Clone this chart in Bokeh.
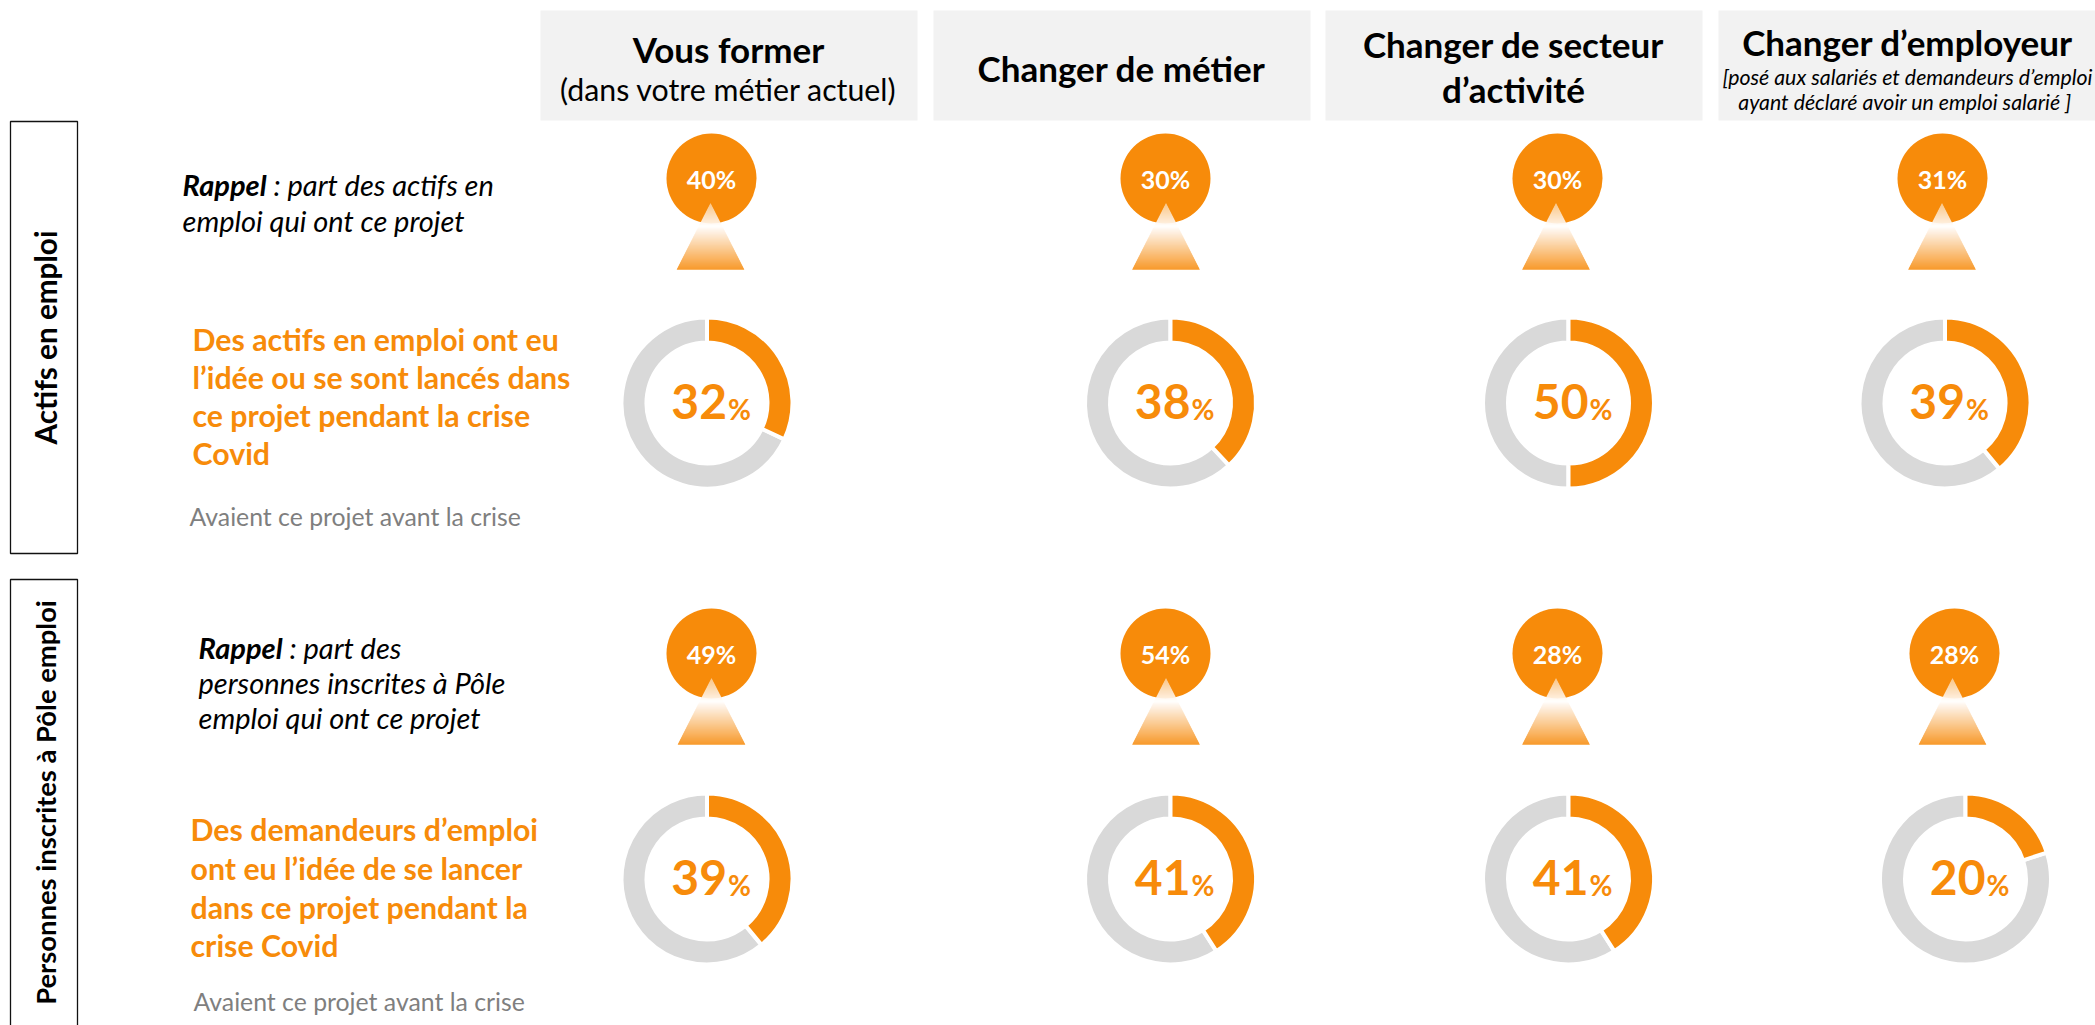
import math
from bokeh.plotting import figure
from bokeh.models import Range1d
from bokeh.core.properties import value
from bokeh.embed import file_html
from bokeh.resources import INLINE

# ---- values
recall_emploi = [40, 30, 30, 31]
recall_pole = [49, 54, 28, 28]
covid_emploi = [32, 38, 50, 39]
covid_pole = [39, 41, 41, 20]

# ---- layout (page pixels)
ORANGE = "#F78B0A"
GREY = "#D9D9D9"
FONT = value("Lato")
W, H = 2095, 1025

p = figure(width=W, height=H, x_range=Range1d(0, W), y_range=Range1d(H, 0),
           x_axis_type=None, y_axis_type=None, toolbar_location=None, output_backend="svg",
           min_border=0, outline_line_color=None, background_fill_color="white")
p.grid.visible = False

# header boxes
hdr_l = [540, 933, 1325, 1718]
hdr_r = [917, 1310, 1702, 2100]
p.quad(left=hdr_l, right=hdr_r, top=[10] * 4, bottom=[120] * 4, fill_color="#F2F2F2", line_color=None)

# side boxes
p.quad(left=[10, 10], right=[77, 77], top=[121, 579], bottom=[553, 1040],
       fill_color=None, line_color="#111111", line_width=1.3)


def txt(x, y, s, size, color="black", style="normal", align="left", baseline="middle", angle=0):
    p.text(x=[x], y=[y], text=[s], text_font=FONT, text_font_size=f"{size}px", text_color=color,
           text_font_style=style, text_align=align, text_baseline=baseline, angle=angle)


# headers
txt(728, 48, "Vous former", 35, style="bold", align="center")
txt(728, 88, "(dans votre métier actuel)", 30.3, align="center")
txt(1121, 67, "Changer de métier", 35, style="bold", align="center")
txt(1513, 43, "Changer de secteur", 35, style="bold", align="center")
txt(1513, 88, "d’activité", 35, style="bold", align="center")
txt(1907, 41, "Changer d’employeur", 35, style="bold", align="center")
txt(1907, 76, "[posé aux salariés et demandeurs d’emploi", 21.3, style="italic", align="center")
txt(1907, 101, "ayant déclaré avoir un emploi salarié  ]", 21.3, style="italic", align="center")

# side labels
txt(45, 337, "Actifs en emploi", 29.7, style="bold", align="center", angle=math.pi / 2)
txt(45, 802, "Personnes inscrites à Pôle emploi", 27.4, style="bold", align="center", angle=math.pi / 2)

# left texts, row 1
txt(182, 184, "Rappel", 29, style="bold italic")
txt(273, 184, ": part des actifs en", 29, style="italic")
txt(182, 220, "emploi qui ont ce projet", 29, style="italic")
for y, s in zip([338, 376, 414, 452],
                ["Des actifs en emploi ont eu", "l’idée ou se sont lancés dans", "ce projet pendant la crise", "Covid"]):
    txt(192, y, s, 30.3, color=ORANGE, style="bold")
txt(189, 516, "Avaient ce projet avant la crise", 24.8, color="#7F7F7F")

# left texts, row 2
txt(198, 647, "Rappel", 29, style="bold italic")
txt(289, 647, ": part des", 29, style="italic")
txt(198, 682, "personnes inscrites à  Pôle", 29, style="italic")
txt(198, 717, "emploi qui ont ce projet", 29, style="italic")
for y, s in zip([828, 867, 906, 944],
                ["Des demandeurs d’emploi", "ont eu l’idée de se lancer", "dans ce projet pendant la", "crise Covid"]):
    txt(190, y, s, 30.3, color=ORANGE, style="bold")
txt(193, 1001, "Avaient ce projet avant la crise", 24.8, color="#7F7F7F")


# recall bubbles + gradient triangle
def mix(c1, c2, t):
    return "#%02X%02X%02X" % tuple(round(a + (b - a) * t) for a, b in zip(c1, c2))


C_O = (247, 143, 22)
C_P = (251, 205, 150)
C_W = (255, 255, 255)


def bubble(cx, cy, tx, v):
    p.circle(x=[cx], y=[cy], radius=45, radius_units="screen", fill_color=ORANGE, line_color=None)
    apex, base, half = cy + 25, cy + 91, 33.5
    n = int(base - apex)
    xs, ys, cols = [], [], []
    for i in range(n):
        y0, y1 = apex + i, apex + i + 1
        w0, w1 = half * i / n, half * (i + 1) / n
        xs.append([tx - w0, tx + w0, tx + w1, tx - w1])
        ys.append([y0, y0, y1, y1])
        f = (y0 - apex) / n
        if f < 0.34:
            cols.append(mix(C_P, C_W, f / 0.34))
        else:
            cols.append(mix(C_W, C_O, (f - 0.34) / 0.66))
    p.patches(xs=xs, ys=ys, fill_color=cols, line_color=cols, line_width=0.4)
    txt(cx, cy + 0.5, f"{v}%", 25, color="white", style="bold", align="center")


bub_x1 = [711, 1165, 1557, 1942]
tri_x1 = [710, 1165.5, 1555.5, 1941.5]
bub_x2 = [711, 1165, 1557, 1954]
tri_x2 = [711, 1165.5, 1555.5, 1952]
for cx, tx, v in zip(bub_x1, tri_x1, recall_emploi):
    bubble(cx, 178, tx, v)
for cx, tx, v in zip(bub_x2, tri_x2, recall_pole):
    bubble(cx, 653, tx, v)


# donuts
def donut(cx, cy, v):
    a = v / 100 * 2 * math.pi
    top = math.pi / 2
    for start, end, col in [(top - a, top - 2 * math.pi, GREY), (top, top - a, ORANGE)]:
        p.annular_wedge(x=[cx], y=[cy], inner_radius=60.5, outer_radius=85.5,
                        inner_radius_units="screen", outer_radius_units="screen",
                        start_angle=start, end_angle=end, direction="clock",
                        fill_color=col, line_color="white", line_width=4)
    txt(cx + 20, cy - 2, f"{v}", 48, color=ORANGE, style="bold", align="right")
    txt(cx + 21, cy + 5.5, "%", 28, color=ORANGE, style="bold")


don_x1 = [706.5, 1170, 1568, 1944.5]
don_x2 = [706.5, 1170, 1568, 1965]
for cx, v in zip(don_x1, covid_emploi):
    donut(cx, 402.5, v)
for cx, v in zip(don_x2, covid_pole):
    donut(cx, 878.5, v)

open("out.html", "w").write(file_html(p, INLINE))
